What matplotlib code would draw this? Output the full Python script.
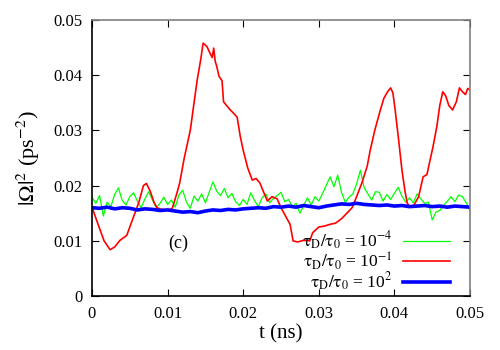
import matplotlib
matplotlib.use("Agg")
import matplotlib.pyplot as plt
import numpy as np

plt.rcParams['font.family'] = ['Liberation Serif', 'DejaVu Serif']
plt.rcParams['mathtext.fontset'] = 'stix'

# red: tau_D/tau_0 = 10^-1  (t in ns, value in ps^-2)
t_red = [0.0, 0.0008, 0.0016, 0.0024, 0.0030, 0.0037, 0.0046, 0.0054, 0.0062, 0.0068,
         0.0072, 0.0077, 0.0082, 0.0086, 0.0092, 0.0100, 0.0106, 0.0112, 0.0116, 0.0122,
         0.0130, 0.0134, 0.0139, 0.0144, 0.0147, 0.0152, 0.0156, 0.0159, 0.0161, 0.0163,
         0.0165, 0.0168, 0.0172, 0.0174, 0.0178, 0.0183, 0.0188, 0.0192, 0.0196, 0.0200,
         0.0206, 0.0212, 0.0217, 0.0222, 0.0228, 0.0232, 0.0238, 0.0245, 0.0250, 0.0256,
         0.0262, 0.0266, 0.0272, 0.0280, 0.0288, 0.0292, 0.0300, 0.0308, 0.0315, 0.0322,
         0.0330, 0.0337, 0.0344, 0.0350, 0.0357, 0.0364, 0.0368, 0.0374, 0.0381, 0.0386,
         0.0391, 0.0395, 0.0398, 0.0401, 0.0405, 0.0410, 0.0414, 0.0417, 0.0421, 0.0426,
         0.0432, 0.0438, 0.0443, 0.0451, 0.0456, 0.0460, 0.0464, 0.0468, 0.0472, 0.0477,
         0.0482, 0.0486, 0.0490, 0.0494, 0.0497, 0.0500]
v_red = [0.0161, 0.0130, 0.0100, 0.0084, 0.0089, 0.0101, 0.0110, 0.0140, 0.0170, 0.0200,
         0.0204, 0.0190, 0.0170, 0.0160, 0.0157, 0.0156, 0.0158, 0.0185, 0.0205, 0.0250,
         0.0300, 0.0340, 0.0390, 0.0430, 0.0458, 0.0452, 0.0440, 0.0432, 0.0449, 0.0425,
         0.0416, 0.0398, 0.0390, 0.0352, 0.0345, 0.0337, 0.0330, 0.0324, 0.0290, 0.0264,
         0.0232, 0.0210, 0.0213, 0.0205, 0.0185, 0.0172, 0.0180, 0.0176, 0.0160, 0.0145,
         0.0130, 0.0100, 0.0098, 0.0101, 0.0100, 0.0115, 0.0125, 0.0127, 0.0130, 0.0132,
         0.0140, 0.0150, 0.0160, 0.0180, 0.0205, 0.0235, 0.0264, 0.0300, 0.0335, 0.0358,
         0.0370, 0.0377, 0.0368, 0.0337, 0.0290, 0.0228, 0.0190, 0.0168, 0.0161, 0.0165,
         0.0180, 0.0216, 0.0220, 0.0270, 0.0306, 0.0345, 0.0370, 0.0362, 0.0345, 0.0337,
         0.0352, 0.0377, 0.0370, 0.0365, 0.0376, 0.0373]

# green: tau_D/tau_0 = 10^-4 (units of 1e-3 ps^-2), one sample every 0.0005 ns
v_green = [17.9, 16.8, 18.2, 14.5, 17.0, 16.2, 18.4, 19.6, 17.3, 16.5,
           18.0, 18.7, 17.2, 16.0, 17.6, 18.9, 17.4, 16.0, 16.8, 17.9,
           16.6, 17.4, 16.1, 18.3, 19.2, 17.0, 15.9, 18.1, 17.2, 18.5,
           16.9, 18.8, 20.7, 19.0, 18.2, 19.5, 17.8, 18.6, 17.1, 16.4,
           17.5, 16.6, 18.7, 17.3, 16.2, 17.8, 18.5, 16.9, 17.7, 18.2,
           18.8, 17.1, 17.5, 16.2, 16.8, 15.0, 16.4, 17.8, 16.5, 18.0,
           17.2, 18.6, 20.1, 21.6, 19.8, 21.9, 18.8, 17.0, 17.9, 18.5,
           20.3, 22.8, 19.6, 18.5, 17.4, 18.9, 18.8, 17.2, 18.4, 17.5,
           18.6, 19.7, 18.1, 17.0, 17.8, 16.9, 18.5, 17.6, 16.8, 17.0,
           13.8, 15.2, 15.5, 16.4, 17.2, 18.0, 17.1, 18.3, 18.0, 16.9,
           15.5]

# blue: tau_D/tau_0 = 10^2 (units of 1e-3 ps^-2), one sample every 0.001 ns
v_blue = [16.0, 15.9, 16.1, 15.8, 16.0, 15.9, 15.6, 15.8, 15.7, 15.5, 15.6,
          15.4, 15.2, 15.3, 15.1, 15.4, 15.6, 15.5, 15.7, 15.6, 15.8,
          15.9, 16.0, 15.9, 16.2, 16.1, 16.3, 16.1, 16.4, 16.2, 16.0,
          16.3, 16.5, 16.7, 16.6, 16.8, 16.6, 16.5, 16.4, 16.5, 16.3,
          16.4, 16.2, 16.3, 16.4, 16.2, 16.3, 16.1, 16.3, 16.2, 16.1]

t_green = np.linspace(0, 0.05, len(v_green))
t_blue = np.linspace(0, 0.05, len(v_blue))

fig = plt.figure(figsize=(5, 3.5), dpi=100)
ax = fig.add_axes([0.184, 0.154, 0.756, 0.789])

ax.plot(t_green, np.array(v_green) * 1e-3, color='#00ff00', lw=0.9,
        label=r'$\mathrm{\tau_D/\tau_0}$ = 10$^{-4}$')
ax.plot(t_red, v_red, color='red', lw=1.2,
        label=r'$\mathrm{\tau_D/\tau_0}$ = 10$^{-1}$')
ax.plot(t_blue, np.array(v_blue) * 1e-3, color='blue', lw=2.6,
        label=r'$\mathrm{\tau_D/\tau_0}$ = 10$^{2}$')

ax.set_xlim(0, 0.05)
ax.set_ylim(0, 0.05)
ax.set_xticks([0, 0.01, 0.02, 0.03, 0.04, 0.05])
ax.set_xticklabels(['0', '0.01', '0.02', '0.03', '0.04', '0.05'])
ax.set_yticks([0, 0.01, 0.02, 0.03, 0.04, 0.05])
ax.set_yticklabels(['0', '0.01', '0.02', '0.03', '0.04', '0.05'])
ax.tick_params(direction='in', length=5, width=0.8, top=True, right=True,
               labelsize=12, pad=7)

ax.spines['left'].set_color('black')
ax.spines['bottom'].set_color('black')
ax.spines['top'].set_color('#808080')
ax.spines['right'].set_color('#808080')
for s in ax.spines.values():
    s.set_linewidth(1.2)

ax.set_xlabel('t (ns)', fontsize=15, labelpad=2)
ax.set_ylabel(r'$|\Omega|^2$ (ps$^{-2}$)', fontsize=16, labelpad=8)

ax.text(0.0114, 0.0096, '(c)', fontsize=13, ha='center', va='center')

ax.legend(loc='lower right', bbox_to_anchor=(0.947, 0.012), frameon=False,
          markerfirst=False, fontsize=12.5, handlelength=2.7, labelspacing=-0.1,
          handletextpad=0.6, borderaxespad=0, borderpad=0)

fig.savefig('out.png', dpi=100)
